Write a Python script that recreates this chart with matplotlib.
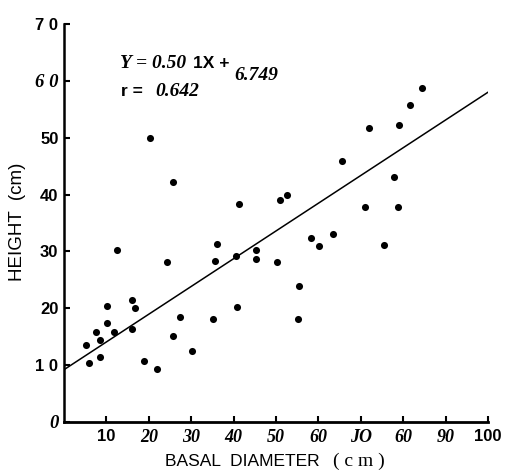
import matplotlib
matplotlib.use("Agg")
import matplotlib.pyplot as plt

# Data
basal_diameter = [5.3, 5.9, 7.5, 8.5, 8.6, 10.2, 10.1, 11.8, 12.4, 16.0, 16.7, 16.0,
                  18.8, 22.0, 24.4, 25.6, 27.4, 30.3, 35.6, 36.2, 35.2, 40.5, 40.8,
                  45.3, 45.2, 20.4, 25.8, 41.3, 51.0, 52.5, 58.3, 63.4, 65.6, 70.9,
                  71.9, 77.8, 78.8, 79.1, 81.5, 84.4, 50.3, 55.5, 55.3, 60.2, 75.5]
height = [13.5, 10.3, 15.8, 14.5, 11.5, 20.4, 17.5, 15.8, 30.2, 21.5, 20.1, 16.3,
          10.7, 9.4, 28.2, 15.2, 18.5, 12.4, 28.4, 31.3, 18.2, 29.2, 20.2,
          30.2, 28.7, 50.0, 42.2, 38.3, 39.1, 40.0, 32.4, 33.0, 45.9, 37.9,
          51.7, 43.1, 37.8, 52.3, 55.8, 58.8, 28.2, 24.0, 18.1, 31.0, 31.2]
fit_x = [0, 100]
fit_y = [9.2, 58.0]

x_ticks = [10, 20, 30, 40, 50, 60, 70, 80, 90, 100]
x_tick_labels = ["10", "20", "30", "40", "50", "60", "JO", "60", "90", "100"]
y_ticks = [0, 10, 20, 30, 40, 50, 60, 70]
y_tick_labels = ["0", "1 0", "20", "30", "40", "50", "6 0", "7 0"]

W, H = 505, 474
fig = plt.figure(figsize=(W / 100, H / 100), dpi=100)
ax = fig.add_axes([64 / W, 52 / H, 424 / W, 398 / H])

ax.scatter(basal_diameter, height, s=26, color="black", zorder=3, linewidths=0)
ax.plot(fit_x, fit_y, color="black", lw=1.1)

ax.set_xlim(0, 100)
ax.set_ylim(0, 70)
for s in ["top", "right"]:
    ax.spines[s].set_visible(False)
ax.spines["left"].set_linewidth(1.8)
ax.spines["bottom"].set_linewidth(2.0)

ax.set_xticks(x_ticks)
ax.set_xticklabels(x_tick_labels)
ax.set_yticks(y_ticks)
ax.set_yticklabels(y_tick_labels)
ax.tick_params(axis="both", direction="in", length=4, width=1.5)
ax.tick_params(axis="x", pad=5)
ax.tick_params(axis="y", pad=4)

for lbl, txt in zip(ax.get_xticklabels(), x_tick_labels):
    if txt in ("10", "100"):
        lbl.set_fontfamily("Liberation Sans"); lbl.set_fontweight("bold"); lbl.set_fontsize(12)
    else:
        lbl.set_fontfamily("Liberation Serif"); lbl.set_fontstyle("italic")
        lbl.set_fontweight("bold"); lbl.set_fontsize(13)
for lbl, txt in zip(ax.get_yticklabels(), y_tick_labels):
    if txt in ("0", "6 0"):
        lbl.set_fontfamily("Liberation Serif"); lbl.set_fontstyle("italic")
        lbl.set_fontweight("bold"); lbl.set_fontsize(13.5)
    else:
        lbl.set_fontfamily("Liberation Sans"); lbl.set_fontweight("bold"); lbl.set_fontsize(12)

# Axis titles
fig.text(18 / W, 1 - 222 / H, "HEIGHT  (cm)", rotation=90, ha="center", va="center",
         family="Liberation Sans", size=13.5)
fig.text(320 / W, 1 - 461 / H, "BASAL  DIAMETER", ha="right", va="center",
         family="Liberation Sans", size=12.5)
fig.text(333 / W, 1 - 461 / H, "( c m )", ha="left", va="center",
         family="Liberation Serif", size=14)

# Equation
fig.text(120 / W, 1 - 63 / H, "Y = 0.50", ha="left", va="center",
         family="Liberation Serif", style="italic", weight="bold", size=14)
fig.text(193 / W, 1 - 63 / H, "1X +", ha="left", va="center",
         family="Liberation Sans", weight="bold", size=12.5)
fig.text(234 / W, 1 - 75 / H, "6.749", ha="left", va="center",
         family="Liberation Serif", style="italic", weight="bold", size=14)
fig.text(121 / W, 1 - 91 / H, "r =", ha="left", va="center",
         family="Liberation Sans", weight="bold", size=12.5)
fig.text(155 / W, 1 - 91 / H, "0.642", ha="left", va="center",
         family="Liberation Serif", style="italic", weight="bold", size=14)

fig.savefig("out.png", dpi=100)
